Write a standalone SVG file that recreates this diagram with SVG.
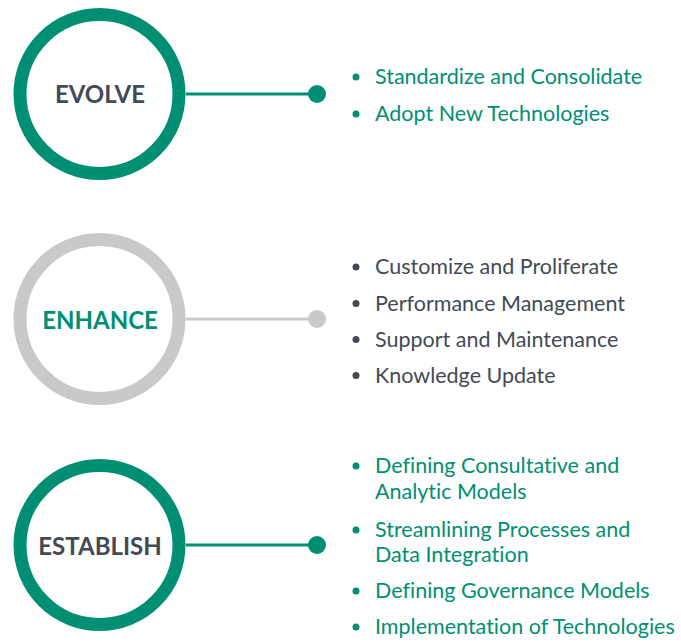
<svg xmlns="http://www.w3.org/2000/svg" width="681" height="643" viewBox="0 0 681 643">
<style>
.ring{fill:#fff;stroke-width:13}
.g{stroke:#008f73}
.gr{stroke:#c8c9c8}
.title{font-family:Lato,"Liberation Sans",sans-serif;font-weight:bold;font-size:24px;text-anchor:middle}
.item{font-family:Lato,"Liberation Sans",sans-serif;font-size:21.5px;font-variant-ligatures:none}
.tg{fill:#008f73}
.td{fill:#434a54}
</style>
<rect width="681" height="643" fill="#fff"/>
<g id="connectors">
<line x1="186" y1="94" x2="317" y2="94" stroke="#008f73" stroke-width="3"/>
<circle cx="317" cy="94" r="9" fill="#008f73"/>
<line x1="186" y1="319" x2="317" y2="319" stroke="#c8c9c8" stroke-width="3"/>
<circle cx="317" cy="319" r="9" fill="#c8c9c8"/>
<line x1="186" y1="545" x2="317" y2="545" stroke="#008f73" stroke-width="3"/>
<circle cx="317" cy="545" r="9" fill="#008f73"/>
</g>
<g id="evolve">
<circle class="ring g" cx="99.5" cy="94" r="79.5"/>
<text class="title td" x="100" y="103">EVOLVE</text>
</g>
<g id="evolve-list">
<circle class="tg" cx="356" cy="77" r="3.5"/>
<text class="item tg" x="375" y="84">Standardize and Consolidate</text>
<circle class="tg" cx="356" cy="114" r="3.5"/>
<text class="item tg" x="375" y="121">Adopt New Technologies</text>
</g>
<g id="enhance">
<circle class="ring gr" cx="99.5" cy="319" r="79.5"/>
<text class="title tg" x="100" y="328.5">ENHANCE</text>
</g>
<g id="enhance-list">
<circle class="td" cx="356" cy="267" r="3.5"/>
<text class="item td" x="375" y="274">Customize and Proliferate</text>
<circle class="td" cx="356" cy="303.5" r="3.5"/>
<text class="item td" x="375" y="310.5">Performance Management</text>
<circle class="td" cx="356" cy="339.5" r="3.5"/>
<text class="item td" x="375" y="346.5">Support and Maintenance</text>
<circle class="td" cx="356" cy="375.5" r="3.5"/>
<text class="item td" x="375" y="382.5">Knowledge Update</text>
</g>
<g id="establish">
<circle class="ring g" cx="99.5" cy="545" r="79.5"/>
<text class="title td" x="100" y="555">ESTABLISH</text>
</g>
<g id="establish-list">
<circle class="tg" cx="356" cy="466" r="3.5"/>
<text class="item tg" x="375" y="473">Defining Consultative and</text>
<text class="item tg" x="375" y="499">Analytic Models</text>
<circle class="tg" cx="356" cy="530" r="3.5"/>
<text class="item tg" x="375" y="537">Streamlining Processes and</text>
<text class="item tg" x="375" y="562">Data Integration</text>
<circle class="tg" cx="356" cy="591" r="3.5"/>
<text class="item tg" x="375" y="598">Defining Governance Models</text>
<circle class="tg" cx="356" cy="627" r="3.5"/>
<text class="item tg" x="375" y="634">Implementation of Technologies</text>
</g>
</svg>
